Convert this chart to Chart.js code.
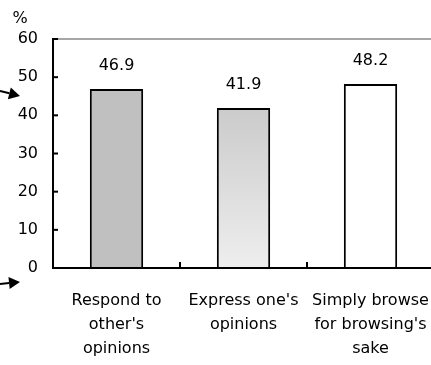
<!DOCTYPE html>
<html>
<head>
<meta charset="utf-8">
<script src="https://cdn.jsdelivr.net/npm/chart.js@4/dist/chart.umd.min.js"></script>
<style>
  html, body { margin: 0; padding: 0; background: #fff; overflow: hidden; }
  #wrap { width: 434px; height: 365px; }
</style>
</head>
<body>
<div id="wrap"><canvas id="c" width="434" height="365"></canvas></div>
<script>
// Reasons for reading/posting (percent)
const categories = [
  ["Respond to", "other's", "opinions"],
  ["Express one's", "opinions"],
  ["Simply browse", "for browsing's", "sake"]
];
const values = [46.9, 41.9, 48.2];
const yMin = 0;
const yMax = 60;
const yStep = 10;

const FONT = "'DejaVu Sans', 'Liberation Sans', Arial, sans-serif";

// Axis frame, inward tick marks, unit label, value labels and side arrows
const framePlugin = {
  id: 'frame',
  afterDraw(chart) {
    const ctx = chart.ctx;
    const a = chart.chartArea;
    const xs = chart.scales.x;
    const ys = chart.scales.y;
    ctx.save();

    // grey top border
    ctx.strokeStyle = '#a6a6a6';
    ctx.lineWidth = 2;
    ctx.beginPath();
    ctx.moveTo(a.left, a.top);
    ctx.lineTo(a.right, a.top);
    ctx.stroke();

    // axes
    ctx.strokeStyle = '#000';
    ctx.lineWidth = 2;
    ctx.beginPath();
    ctx.moveTo(a.left, a.top - 1);
    ctx.lineTo(a.left, a.bottom);
    ctx.lineTo(a.right, a.bottom);
    ctx.stroke();

    // y tick marks pointing inward
    ys.ticks.forEach(t => {
      const y = ys.getPixelForValue(t.value);
      ctx.beginPath();
      ctx.moveTo(a.left, y);
      ctx.lineTo(a.left + 5, y);
      ctx.stroke();
    });

    // x tick marks between categories, pointing up
    for (let i = 1; i < categories.length; i++) {
      const x = (xs.getPixelForValue(i - 1) + xs.getPixelForValue(i)) / 2;
      ctx.beginPath();
      ctx.moveTo(x, a.bottom);
      ctx.lineTo(x, a.bottom - 6);
      ctx.stroke();
    }

    // unit label
    ctx.fillStyle = '#000';
    ctx.font = '16px ' + FONT;
    ctx.textAlign = 'center';
    ctx.textBaseline = 'middle';
    ctx.fillText('%', a.left - 33, a.top - 20);

    // value labels above bars
    const meta = chart.getDatasetMeta(0);
    meta.data.forEach((bar, i) => {
      ctx.fillText(values[i].toFixed(1), bar.x, bar.y - 23);
    });

    // side arrows
    const arrow = (x0, y0, x1, y1) => {
      const ang = Math.atan2(y1 - y0, x1 - x0);
      const len = 11, half = 6;
      const bx = x1 - len * Math.cos(ang), by = y1 - len * Math.sin(ang);
      ctx.lineWidth = 2;
      ctx.beginPath();
      ctx.moveTo(x0, y0);
      ctx.lineTo(bx, by);
      ctx.stroke();
      ctx.beginPath();
      ctx.moveTo(x1, y1);
      ctx.lineTo(bx - half * Math.sin(ang), by + half * Math.cos(ang));
      ctx.lineTo(bx + half * Math.sin(ang), by - half * Math.cos(ang));
      ctx.closePath();
      ctx.fill();
    };
    arrow(0, a.top + 52, 20, a.top + 57);
    arrow(0, a.bottom + 16, 20, a.bottom + 14);

    ctx.restore();
  }
};

function fillFor(ctx) {
  const i = ctx.dataIndex;
  if (i === 0) return '#c0c0c0';
  if (i === 2) return '#ffffff';
  const area = ctx.chart.chartArea;
  if (!area) return '#d0d0d0';
  const el = ctx.chart.getDatasetMeta(0).data[i];
  const top = el && isFinite(el.y) ? el.y : area.top;
  const g = ctx.chart.ctx.createLinearGradient(0, top, 0, area.bottom);
  g.addColorStop(0, '#bcbcbc');
  g.addColorStop(1, '#eeeeee');
  return g;
}

new Chart(document.getElementById('c'), {
  type: 'bar',
  data: {
    labels: categories,
    datasets: [{
      data: values,
      backgroundColor: fillFor,
      borderColor: '#000',
      borderWidth: 2,
      borderSkipped: 'bottom',
      barPercentage: 0.42,
      categoryPercentage: 1
    }]
  },
  options: {
    responsive: false,
    animation: false,
    devicePixelRatio: 1,
    layout: { padding: { top: 39, left: 0, right: 0, bottom: 0 } },
    plugins: { legend: { display: false }, tooltip: { enabled: false } },
    scales: {
      x: {
        grid: { display: false, drawTicks: false },
        border: { display: false },
        ticks: {
          color: '#000',
          font: { family: FONT, size: 16, lineHeight: 1.5 },
          padding: 21,
          maxRotation: 0,
          autoSkip: false
        },
        afterFit(s) {
          s.height = 97;
          s.paddingLeft = 0;
          s.paddingRight = 0;
        }
      },
      y: {
        min: yMin,
        max: yMax,
        grid: { display: false, drawTicks: false },
        border: { display: false },
        ticks: {
          stepSize: yStep,
          color: '#000',
          font: { family: FONT, size: 16 },
          padding: 15
        },
        afterFit(s) {
          s.width = 53;
          s.paddingTop = 0;
          s.paddingBottom = 0;
        }
      }
    }
  },
  plugins: [framePlugin]
});
</script>
</body>
</html>
